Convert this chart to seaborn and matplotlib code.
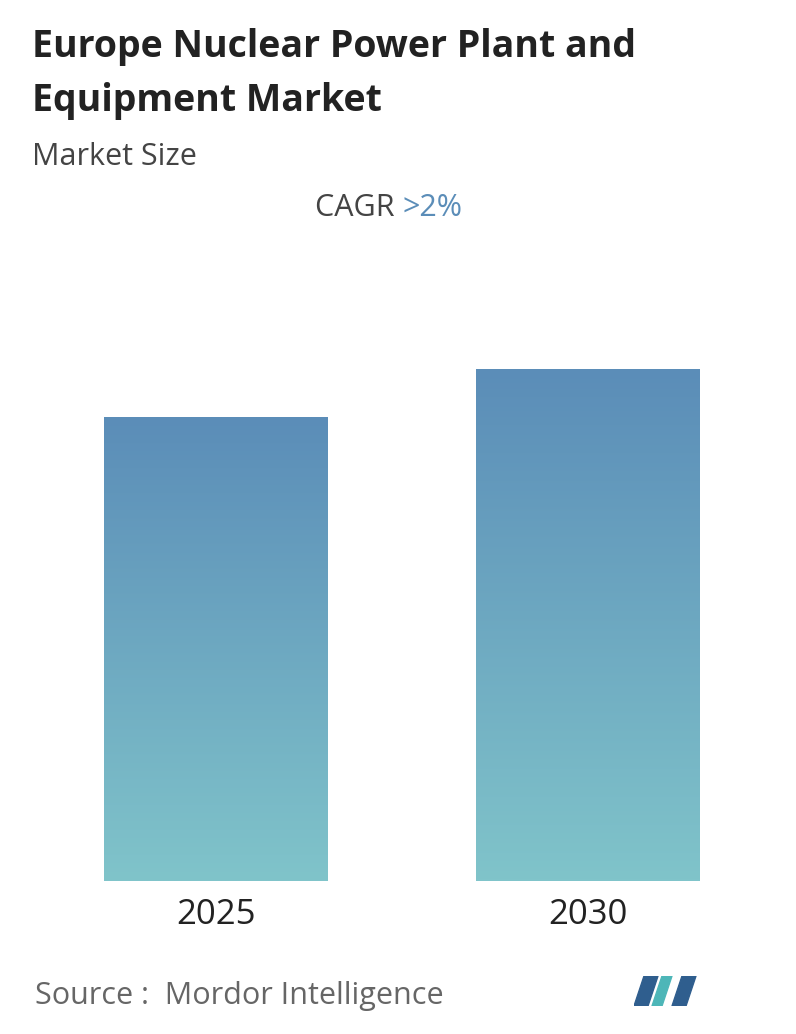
import matplotlib
matplotlib.use("Agg")
import matplotlib.pyplot as plt
import seaborn as sns
import numpy as np
import pandas as pd
from matplotlib.colors import LinearSegmentedColormap

years = ["2025", "2030"]
values = [464, 512]

sns.set_theme(style="white")
plt.rcParams['font.family'] = ['Open Sans', 'DejaVu Sans']

fig = plt.figure(figsize=(7.96, 10.34), dpi=100)
ax = fig.add_axes([30/796, 1-881/1034, 744/796, 600/1034])
df = pd.DataFrame({"year": years, "value": values})
sns.barplot(data=df, x="year", y="value", ax=ax, width=0.6, color="#6a9fc0")
ax.set_xlim(-0.5, 1.5)
ax.set_ylim(0, 600)
for s in ax.spines.values():
    s.set_visible(False)
ax.set_xlabel(""); ax.set_ylabel("")
ax.set_yticks([])
ax.tick_params(axis="x", length=0, labelsize=25, pad=12, labelcolor="#222222")

cmap = LinearSegmentedColormap.from_list("g", ["#80c4ca", "#5b8db8"])
grad = np.linspace(0, 1, 256).reshape(-1, 1)
for p in ax.patches:
    x0, y0 = p.get_x(), p.get_y()
    w, h = p.get_width(), p.get_height()
    p.set_facecolor("none"); p.set_edgecolor("none")
    im = ax.imshow(grad, cmap=cmap, aspect="auto", origin="lower",
                   extent=[x0, x0 + w, y0, y0 + h], zorder=2)
    im.set_clip_path(p)
ax.set_xlim(-0.5, 1.5)
ax.set_ylim(0, 600)

fig.text(32/796, 1-47/1034, "Europe Nuclear Power Plant and", fontsize=27, fontweight="bold", color="#222222", va="center")
fig.text(32/796, 1-101/1034, "Equipment Market", fontsize=27, fontweight="bold", color="#222222", va="center")
fig.text(32/796, 1-157/1034, "Market Size", fontsize=22, color="#444444", va="center")
fig.text(402/796, 1-208/1034, "CAGR ", fontsize=22, color="#444444", va="center", ha="right")
fig.text(402/796, 1-208/1034, ">2%", fontsize=22, color="#5b8db8", va="center", ha="left")
fig.text(35/796, 1-996/1034, "Source :  Mordor Intelligence", fontsize=22, color="#666666", va="center")

# logo
lax = fig.add_axes([634/796, 1-1006/1034, 66/796, 30/1034])
lax.set_xlim(0, 66); lax.set_ylim(0, 30); lax.axis("off")
lax.fill([0, 10, 24, 14], [0, 30, 30, 0], color="#2f5e8e")
lax.fill([18, 28, 38, 28], [0, 30, 30, 0], color="#4db6b8")
lax.fill([38, 48, 62, 52], [0, 30, 30, 0], color="#2f5e8e")
fig.savefig("out.png", dpi=100)
